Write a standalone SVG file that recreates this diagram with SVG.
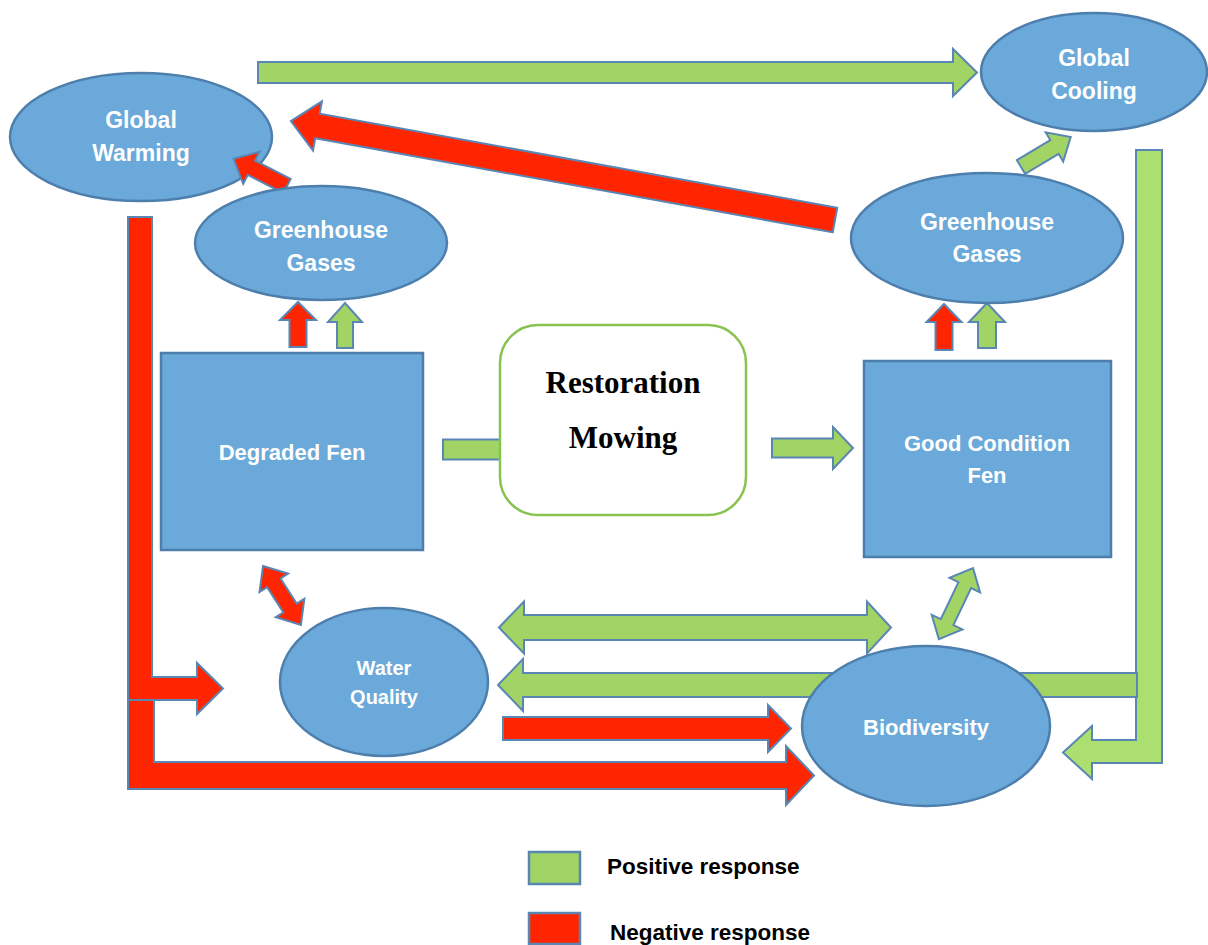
<svg xmlns="http://www.w3.org/2000/svg" width="1208" height="945" viewBox="0 0 1208 945">
<style>
.node{fill:#6aa9d9;stroke:#4e7fac;stroke-width:2.5}
.lbl{fill:#ffffff;font-family:"Liberation Sans",Arial,sans-serif;font-weight:bold;text-anchor:middle}
.g{fill:#a1d465;stroke:#5a86b3;stroke-width:2}
.gl{fill:#abe070;stroke:#5a86b3;stroke-width:2}
.r{fill:#ff2500;stroke:#5a86b3;stroke-width:2}
.serif{fill:#000;font-family:"Liberation Serif","Times New Roman",serif;font-weight:bold;text-anchor:middle;font-size:31px}
.leg{fill:#000;font-family:"Liberation Sans",Arial,sans-serif;font-weight:bold;font-size:22.5px}
</style>
<rect width="1208" height="945" fill="#ffffff"/>
<g id="global-warming">
<ellipse class="node" cx="141" cy="137" rx="131" ry="64"/>
<text class="lbl" font-size="23" x="141" y="128">Global</text>
<text class="lbl" font-size="23" x="141" y="161">Warming</text>
</g>
<g id="connectors">
<polygon class="g" points="258,62 953,62 953,49 977,72.5 953,96 953,83 258,83"/>
<polygon class="r" transform="translate(835,220) rotate(190.3)" points="0,-12.5 526,-12.5 526,-25 553,0 526,25 526,12.5 0,12.5"/>
<polygon class="r" transform="translate(287,186) rotate(207)" points="0,-8 40,-8 40,-18 60,0 40,18 40,8 0,8"/>
<polygon class="g" transform="translate(1021,167) rotate(-31)" points="0,-8 39,-8 39,-17 58,0 39,17 39,8 0,8"/>
<polygon class="r" points="289.5,347 289.5,320 280,320 298,302 316,320 306.5,320 306.5,347"/>
<polygon class="g" points="337,348 337,322 328,322 345,303 362,322 353,322 353,348"/>
<polygon class="r" points="935.5,350 935.5,322 926.5,322 944,304 961.5,322 952.5,322 952.5,350"/>
<polygon class="g" points="978,348 978,322 969,322 987,303 1005,322 996,322 996,348"/>
<rect class="g" x="443" y="439.5" width="66" height="20"/>
<polygon class="g" points="772,438.5 833,438.5 833,427 853,448 833,469 833,457.5 772,457.5"/>
<polygon class="r" transform="translate(263,566) rotate(57.2)" points="0,0 20,-17 20,-8 50,-8 50,-17 70,0 50,17 50,8 20,8 20,17"/>
<polygon class="g" transform="translate(973,568) rotate(115.6)" points="0,0 19,-17 19,-7 60,-7 60,-17 79,0 60,17 60,7 19,7 19,17"/>
<polygon class="g" points="499,627.5 524,601.5 524,615 867,615 867,601.5 891,627.5 867,653.5 867,640 524,640 524,653.5"/>
<polygon class="gl" points="1136,150 1162,150 1162,763 1092,763 1092,779 1063,752.5 1092,726 1092,740 1136,740"/>
<polygon class="g" points="1137,673 523,673 523,659 498,685 523,711 523,697 1137,697"/>
<polygon class="r" points="128,700 154,700 154,762 786,762 786,746 814,775.5 786,805 786,789 128,789"/>
<polygon class="r" points="128,217 152,217 152,677 197,677 197,663 223,688.5 197,714 197,700 128,700"/>
<polygon class="r" points="503,717 768,717 768,705 791,728.5 768,752 768,740 503,740"/>
</g>
<g id="global-cooling">
<ellipse class="node" cx="1094" cy="72" rx="113" ry="59"/>
<text class="lbl" font-size="23" x="1094" y="66">Global</text>
<text class="lbl" font-size="23" x="1094" y="99">Cooling</text>
</g>
<g id="greenhouse-left">
<ellipse class="node" cx="321" cy="243" rx="126" ry="57"/>
<text class="lbl" font-size="23" x="321" y="238">Greenhouse</text>
<text class="lbl" font-size="23" x="321" y="271">Gases</text>
</g>
<g id="greenhouse-right">
<ellipse class="node" cx="987" cy="238" rx="136" ry="65"/>
<text class="lbl" font-size="23" x="987" y="230">Greenhouse</text>
<text class="lbl" font-size="23" x="987" y="262">Gases</text>
</g>
<g id="degraded-fen">
<rect class="node" x="161" y="353" width="262" height="197"/>
<text class="lbl" font-size="22" x="292" y="460">Degraded Fen</text>
</g>
<g id="restoration-mowing">
<rect x="500" y="325" width="246" height="190" rx="38" ry="38" fill="#ffffff" stroke="#88c250" stroke-width="2.5"/>
<text class="serif" x="623" y="393">Restoration</text>
<text class="serif" x="623" y="448">Mowing</text>
</g>
<g id="good-condition-fen">
<rect class="node" x="864" y="361" width="247" height="196"/>
<text class="lbl" font-size="22" x="987" y="451">Good Condition</text>
<text class="lbl" font-size="22" x="987" y="483">Fen</text>
</g>
<g id="water-quality">
<ellipse class="node" cx="384" cy="682" rx="104" ry="74"/>
<text class="lbl" font-size="20" x="384" y="675">Water</text>
<text class="lbl" font-size="20" x="384" y="704">Quality</text>
</g>
<g id="biodiversity">
<ellipse class="node" cx="926" cy="726" rx="124" ry="80"/>
<text class="lbl" font-size="22" x="926" y="735">Biodiversity</text>
</g>
<g id="legend">
<rect x="529" y="852" width="51" height="32" fill="#a1d465" stroke="#5a86b3" stroke-width="2.5"/>
<text class="leg" x="607" y="874">Positive response</text>
<rect x="529" y="913" width="51" height="31" fill="#ff2500" stroke="#5a86b3" stroke-width="2.5"/>
<text class="leg" x="610" y="940">Negative response</text>
</g>
</svg>
